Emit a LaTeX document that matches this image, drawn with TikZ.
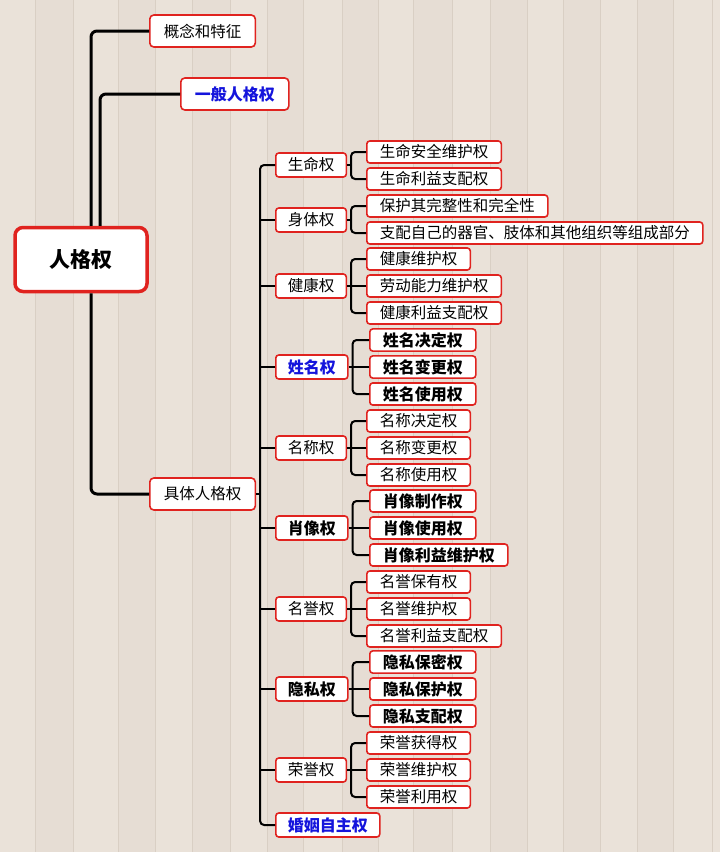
\documentclass[tikz,border=0pt]{standalone}
\usepackage{fontspec}
\setmainfont{Noto Sans CJK SC}
\usetikzlibrary{positioning, calc}
\definecolor{mapRed}{HTML}{E0231F}
\definecolor{mapBlue}{HTML}{1414DC}
\definecolor{woodBase}{HTML}{EAE2D9}
\definecolor{woodDark}{HTML}{E3DAD0}
\definecolor{woodLine}{HTML}{D9CFC4}

\begin{document}
\begin{tikzpicture}[x=1pt, y=-1pt,
    root/.style={rectangle, rounded corners=8pt, draw=mapRed, line width=3.5pt, fill=white,
                 minimum width=132pt, minimum height=64pt,
                 font=\fontsize{21}{24}\selectfont\bfseries},
    topic/.style={rectangle, rounded corners=4pt, draw=mapRed, line width=1.6pt, fill=white,
                  minimum height=32pt, inner xsep=14pt, anchor=west,
                  font=\fontsize{15.5}{18}\selectfont},
    subtopic/.style={rectangle, rounded corners=3pt, draw=mapRed, line width=1.6pt, fill=white,
                     minimum height=24pt, inner xsep=12pt, anchor=west,
                     font=\fontsize{15.5}{18}\selectfont},
    leaf/.style={rectangle, rounded corners=3pt, draw=mapRed, line width=1.6pt, fill=white,
                 minimum height=22pt, inner xsep=13pt, anchor=west,
                 font=\fontsize{15.5}{18}\selectfont},
    strong/.style={font=\fontsize{16}{18}\selectfont\bfseries},
    hl/.style={strong, text=mapBlue},
    trunk/.style={line width=3pt, rounded corners=6pt},
    branch/.style={line width=2pt, rounded corners=4pt},
  ]
    \useasboundingbox (0,0) rectangle (720,852);

    % wooden background
    \fill[woodBase] (0,0) rectangle (720,852);
    \foreach \xa/\xb in {35/73, 118/155, 192/230, 267/303, 342/378, 413/452, 490/527, 563/600, 637/673}
      \fill[woodDark, opacity=0.5] (\xa,0) rectangle (\xb,852);
    \foreach \px in {35, 73, 118, 155, 192, 230, 267, 303, 342, 378, 413, 452, 490, 527, 563, 600, 637, 673, 712}
      \draw[woodLine, line width=0.8pt] (\px,0) -- (\px,852);

    % root and first level
    \node[root] (root) at (81,259.5) {人格权};
    \node[topic] (c1) at (149,31) {概念和特征};
    \node[topic, hl] (c2) at (180,94) {一般人格权};
    \node[topic] (c3) at (149,494) {具体人格权};

    % second level
    \node[subtopic] (s1) at (275,165) {生命权};
    \node[subtopic] (s2) at (275,220) {身体权};
    \node[subtopic] (s3) at (275,286) {健康权};
    \node[subtopic, hl] (s4) at (275,367) {姓名权};
    \node[subtopic] (s5) at (275,448) {名称权};
    \node[subtopic, strong] (s6) at (275,528) {肖像权};
    \node[subtopic] (s7) at (275,609) {名誉权};
    \node[subtopic, strong] (s8) at (275,689) {隐私权};
    \node[subtopic] (s9) at (275,770) {荣誉权};
    \node[subtopic, hl] (s10) at (275,825) {婚姻自主权};

    % leaves
    \node[leaf] (l11) at (366,152) {生命安全维护权};
    \node[leaf] (l12) at (366,179) {生命利益支配权};
    \node[leaf] (l21) at (366,206) {保护其完整性和完全性};
    \node[leaf] (l22) at (366,233) {支配自己的器官、肢体和其他组织等组成部分};
    \node[leaf] (l31) at (366,259) {健康维护权};
    \node[leaf] (l32) at (366,286) {劳动能力维护权};
    \node[leaf] (l33) at (366,313) {健康利益支配权};
    \node[leaf, strong] (l41) at (369,340) {姓名决定权};
    \node[leaf, strong] (l42) at (369,367) {姓名变更权};
    \node[leaf, strong] (l43) at (369,394) {姓名使用权};
    \node[leaf] (l51) at (366,421) {名称决定权};
    \node[leaf] (l52) at (366,448) {名称变更权};
    \node[leaf] (l53) at (366,475) {名称使用权};
    \node[leaf, strong] (l61) at (369,501) {肖像制作权};
    \node[leaf, strong] (l62) at (369,528) {肖像使用权};
    \node[leaf, strong] (l63) at (369,555) {肖像利益维护权};
    \node[leaf] (l71) at (366,582) {名誉保有权};
    \node[leaf] (l72) at (366,609) {名誉维护权};
    \node[leaf] (l73) at (366,636) {名誉利益支配权};
    \node[leaf, strong] (l81) at (369,662) {隐私保密权};
    \node[leaf, strong] (l82) at (369,689) {隐私保护权};
    \node[leaf, strong] (l83) at (369,716) {隐私支配权};
    \node[leaf] (l91) at (366,743) {荣誉获得权};
    \node[leaf] (l92) at (366,770) {荣誉维护权};
    \node[leaf] (l93) at (366,797) {荣誉利用权};

    % trunk lines from the root
    \draw[trunk] ([xshift=10pt]root.north) |- (c1.west);
    \draw[trunk] ([xshift=19pt]root.north) |- (c2.west);
    \draw[trunk] ([xshift=10pt]root.south) |- (c3.west);

    % bus to the second level
    \coordinate (bus) at ($(c3.east)+(4,0)$);
    \draw[branch] (c3.east) -- (bus);
    \draw[branch] (s1.west) -| (bus) |- (s10.west);
    \draw[branch] (s2.west) -- (s2.west -| bus);
    \draw[branch] (s3.west) -- (s3.west -| bus);
    \draw[branch] (s4.west) -- (s4.west -| bus);
    \draw[branch] (s5.west) -- (s5.west -| bus);
    \draw[branch] (s6.west) -- (s6.west -| bus);
    \draw[branch] (s7.west) -- (s7.west -| bus);
    \draw[branch] (s8.west) -- (s8.west -| bus);
    \draw[branch] (s9.west) -- (s9.west -| bus);

    % brackets to the leaves
    \draw[branch] (l11.west) -| ($(s1.east)+(4,0)$) |- (l12.west);
    \draw[branch] (s1.east) -- ($(s1.east)+(4,0)$);
    \draw[branch] (l21.west) -| ($(s2.east)+(4,0)$) |- (l22.west);
    \draw[branch] (s2.east) -- ($(s2.east)+(4,0)$);
    \draw[branch] (l31.west) -| ($(s3.east)+(4,0)$) |- (l33.west);
    \draw[branch] (s3.east) -- (l32.west);
    \draw[branch] (l41.west) -| ($(s4.east)+(4,0)$) |- (l43.west);
    \draw[branch] (s4.east) -- (l42.west);
    \draw[branch] (l51.west) -| ($(s5.east)+(4,0)$) |- (l53.west);
    \draw[branch] (s5.east) -- (l52.west);
    \draw[branch] (l61.west) -| ($(s6.east)+(4,0)$) |- (l63.west);
    \draw[branch] (s6.east) -- (l62.west);
    \draw[branch] (l71.west) -| ($(s7.east)+(4,0)$) |- (l73.west);
    \draw[branch] (s7.east) -- (l72.west);
    \draw[branch] (l81.west) -| ($(s8.east)+(4,0)$) |- (l83.west);
    \draw[branch] (s8.east) -- (l82.west);
    \draw[branch] (l91.west) -| ($(s9.east)+(4,0)$) |- (l93.west);
    \draw[branch] (s9.east) -- (l92.west);
  \end{tikzpicture}
\end{document}
